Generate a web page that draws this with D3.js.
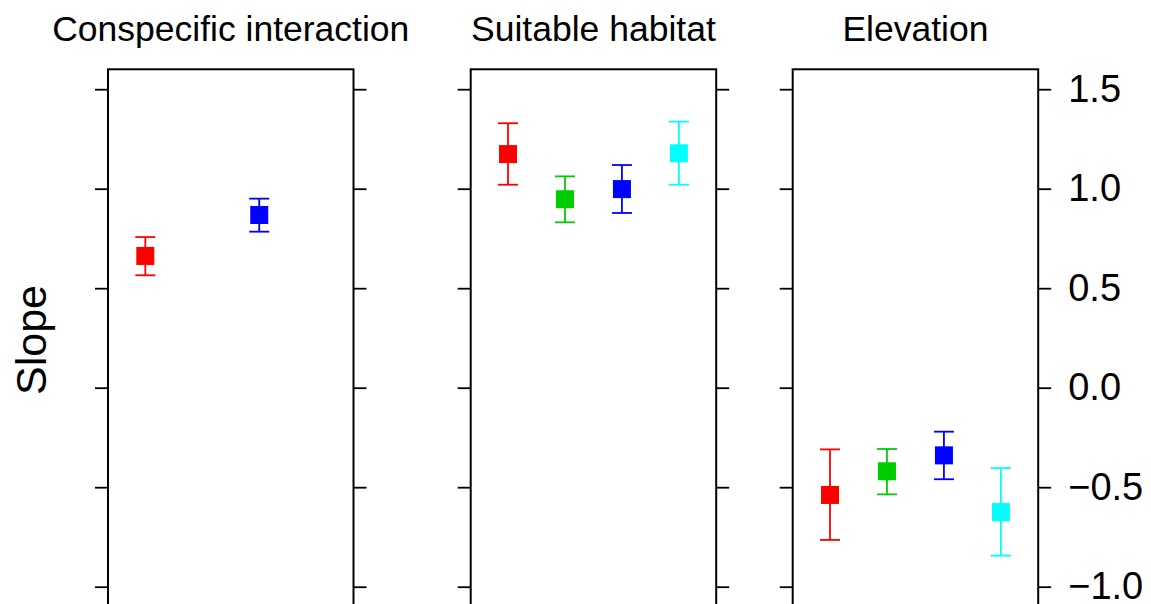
<!DOCTYPE html>
<html>
<head>
<meta charset="utf-8">
<script src="https://cdn.jsdelivr.net/npm/d3@7"></script>
<style>
    html, body { margin: 0; padding: 0; background: #fff; }
    svg { display: block; font-family: "Liberation Sans", Arial, Helvetica, sans-serif; }
</style>
</head>
<body>
<div id="svganchor"></div>
<script>
const width = 1151;
const height = 604;

// data
const panelTitles = ["Conspecific interaction", "Suitable habitat", "Elevation"];
const groupColors = ["#FF0000", "#00CD00", "#0000FF", "#00FFFF"];

const conspecificGroup = [0, 2];
const conspecificEst = [0.662, 0.868];
const conspecificLow = [0.565, 0.784];
const conspecificHigh = [0.757, 0.950];

const habitatGroup = [0, 1, 2, 3];
const habitatEst = [1.174, 0.947, 0.998, 1.178];
const habitatLow = [1.020, 0.831, 0.878, 1.020];
const habitatHigh = [1.329, 1.062, 1.119, 1.337];

const elevationGroup = [0, 1, 2, 3];
const elevationEst = [-0.539, -0.420, -0.340, -0.625];
const elevationLow = [-0.765, -0.536, -0.460, -0.844];
const elevationHigh = [-0.310, -0.308, -0.221, -0.404];

const yTicks = [-1.0, -0.5, 0.0, 0.5, 1.0, 1.5];

// layout
const panelLeft = [108, 470.7, 792.7];
const panelWidth = 245.5;
const plotTop = 69.3;
const plotBottom = 606.6;
const tickLen = 13;
const boxSize = 18;
const capHalf = 10;

const toRows = (group, est, low, high) => group.map(function (g, i) {
    return {group: g, est: est[i], low: low[i], high: high[i]};
});

const panels = [
    toRows(conspecificGroup, conspecificEst, conspecificLow, conspecificHigh),
    toRows(habitatGroup, habitatEst, habitatLow, habitatHigh),
    toRows(elevationGroup, elevationEst, elevationLow, elevationHigh)
];

let svg = d3.select("#svganchor")
    .append("svg")
    .attr("width", width)
    .attr("height", height);

let yScale = d3.scaleLinear()
    .domain([-1.1, 1.6])
    .range([plotBottom, plotTop]);

const fmt = (v) => d3.format(".1f")(v).replace("-", "\u2212");

panels.forEach(function (rows, p) {
    let x0 = panelLeft[p];
    let x1 = x0 + panelWidth;

    let xScale = d3.scaleLinear()
        .domain([0.345, 4.655])
        .range([x0, x1]);

    let g = svg.append("g").attr("class", "panel");

    g.append("text")
        .attr("x", (x0 + x1) / 2)
        .attr("y", 40.5)
        .attr("text-anchor", "middle")
        .attr("font-size", 35.5)
        .attr("fill", "#000")
        .text(panelTitles[p]);

    // error bars
    let bars = g.selectAll(".bar")
        .data(rows)
        .enter()
        .append("g")
        .attr("class", "bar")
        .attr("stroke", function (d) { return groupColors[d.group]; })
        .attr("stroke-width", 1.8);

    bars.append("line")
        .attr("x1", function (d) { return xScale(d.group + 1); })
        .attr("x2", function (d) { return xScale(d.group + 1); })
        .attr("y1", function (d) { return yScale(d.low); })
        .attr("y2", function (d) { return yScale(d.high); });

    bars.append("line")
        .attr("x1", function (d) { return xScale(d.group + 1) - capHalf; })
        .attr("x2", function (d) { return xScale(d.group + 1) + capHalf; })
        .attr("y1", function (d) { return yScale(d.low); })
        .attr("y2", function (d) { return yScale(d.low); });

    bars.append("line")
        .attr("x1", function (d) { return xScale(d.group + 1) - capHalf; })
        .attr("x2", function (d) { return xScale(d.group + 1) + capHalf; })
        .attr("y1", function (d) { return yScale(d.high); })
        .attr("y2", function (d) { return yScale(d.high); });

    g.selectAll(".pt")
        .data(rows)
        .enter()
        .append("rect")
        .attr("class", "pt")
        .attr("x", function (d) { return xScale(d.group + 1) - boxSize / 2; })
        .attr("y", function (d) { return yScale(d.est) - boxSize / 2; })
        .attr("width", boxSize)
        .attr("height", boxSize)
        .attr("fill", function (d) { return groupColors[d.group]; });

    // axes on both sides, labels only on the last panel
    let leftAxis = d3.axisLeft(yScale)
        .tickValues(yTicks)
        .tickSize(tickLen)
        .tickSizeOuter(0)
        .tickFormat("");

    let rightAxis = d3.axisRight(yScale)
        .tickValues(yTicks)
        .tickSize(tickLen)
        .tickSizeOuter(0)
        .tickPadding(17)
        .tickFormat(p === 2 ? fmt : "");

    let la = g.append("g")
        .attr("transform", "translate(" + x0 + ",0)")
        .call(leftAxis);
    let ra = g.append("g")
        .attr("transform", "translate(" + x1 + ",0)")
        .call(rightAxis);

    [la, ra].forEach(function (a) {
        a.select(".domain").remove();
        a.selectAll("line").attr("stroke", "#000").attr("stroke-width", 1.8);
        a.selectAll("text")
            .attr("font-size", 38)
            .attr("fill", "#000")
            .attr("font-family", "\"Liberation Sans\", Arial, Helvetica, sans-serif");
    });

    g.append("rect")
        .attr("x", x0)
        .attr("y", plotTop)
        .attr("width", panelWidth)
        .attr("height", plotBottom + 20 - plotTop)
        .attr("fill", "none")
        .attr("stroke", "#000")
        .attr("stroke-width", 2);
});

svg.append("text")
    .attr("transform", "translate(46,340) rotate(-90)")
    .attr("text-anchor", "middle")
    .attr("font-size", 43)
    .attr("fill", "#000")
    .text("Slope");
</script>
</body>
</html>
